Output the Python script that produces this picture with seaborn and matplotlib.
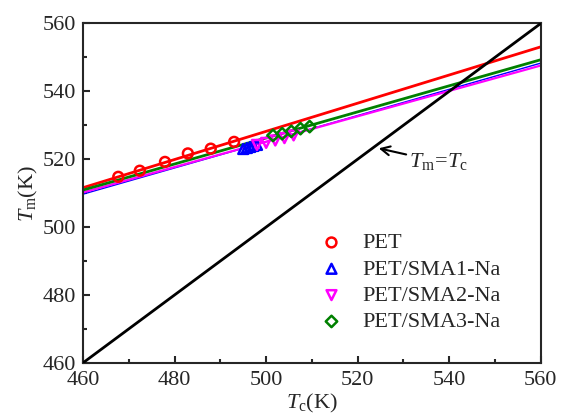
import matplotlib
matplotlib.use("Agg")
import matplotlib.pyplot as plt
import numpy as np
import seaborn as sns

# melting point Tm vs crystallisation temperature Tc (K)
pet_tc = [467.7, 472.4, 477.9, 482.9, 487.9, 493.0]
pet_tm = [514.8, 516.6, 519.2, 521.7, 523.1, 525.1]
sma1_tc = [495.0, 495.8, 496.5, 497.2, 498.0]
sma1_tm = [523.0, 523.3, 523.6, 523.9, 524.2]
sma2_tc = [498.0, 500.0, 502.0, 504.0, 506.0]
sma2_tm = [524.2, 524.8, 525.5, 526.2, 527.0]
sma3_tc = [501.5, 503.5, 505.5, 507.5, 509.5]
sma3_tm = [527.0, 527.5, 528.2, 529.0, 529.6]

# linear fits: Tm at Tc=460 K and slope
fit_tm460 = [511.6, 509.7, 510.2, 510.9]
fit_slope = [0.415, 0.386, 0.374, 0.384]

names = ["PET", "PET/SMA1-Na", "PET/SMA2-Na", "PET/SMA3-Na"]
colors = ["#ff0000", "#0000ff", "#ff00ff", "#008000"]
markers = ["o", "^", "v", "D"]
marker_sizes = [50, 50, 50, 34]
fit_widths = [2.0, 1.0, 1.6, 2.0]

x_range = [460, 560]

sns.set_style("ticks")
plt.rcParams["font.family"] = ["Liberation Serif", "DejaVu Serif"]
plt.rcParams["mathtext.fontset"] = "custom"
plt.rcParams["mathtext.rm"] = "Liberation Serif"
plt.rcParams["mathtext.it"] = "Liberation Serif:italic"

fig = plt.figure(figsize=(5.61, 4.18), dpi=100)
ax = fig.add_axes([0.148, 0.132, 0.816, 0.812])

series = [(pet_tc, pet_tm), (sma1_tc, sma1_tm), (sma2_tc, sma2_tm), (sma3_tc, sma3_tm)]

xs = np.array(x_range, dtype=float)
for i in range(4):
    ys = fit_tm460[i] + fit_slope[i] * (xs - 460)
    sns.lineplot(x=xs, y=ys, color=colors[i], linewidth=fit_widths[i], ax=ax, zorder=2)

# Tm = Tc line
sns.lineplot(x=xs, y=xs, color="black", linewidth=2, ax=ax, zorder=3)

for i, (tc, tm) in enumerate(series):
    sns.scatterplot(
        x=tc, y=tm, marker=markers[i], s=marker_sizes[i],
        facecolor="none", edgecolor=colors[i], linewidth=1.8,
        label=names[i], ax=ax, zorder=4,
    )

ax.annotate(
    r"$T_{\mathrm{m}}\!=\!T_{\mathrm{c}}$", xy=(524.6, 523.2), xytext=(531.3, 519.2),
    fontsize=16, ha="left", va="center",
    arrowprops=dict(arrowstyle="->", color="black", lw=1.5, shrinkA=0, shrinkB=0),
)

ax.set_xlim(460, 560)
ax.set_ylim(460, 560)
ax.set_xticks(np.arange(460, 561, 20))
ax.set_yticks(np.arange(460, 561, 20))
ax.set_xticks(np.arange(470, 560, 20), minor=True)
ax.set_yticks(np.arange(470, 560, 20), minor=True)
ax.tick_params(which="major", direction="in", length=5, width=1.5, labelsize=16)
ax.tick_params(which="minor", direction="in", length=3, width=1.5)
ax.tick_params(axis="x", which="major", pad=6)
ax.tick_params(axis="y", which="major", pad=5)
for sp in ax.spines.values():
    sp.set_linewidth(1.5)

ax.set_xlabel(r"$T_{\mathrm{c}}$(K)", fontsize=16, labelpad=1.5)
ax.set_ylabel(r"$T_{\mathrm{m}}$(K)", fontsize=16, labelpad=2)

ax.legend(
    loc="lower right", bbox_to_anchor=(0.913, 0.09), frameon=False,
    fontsize=16, handlelength=1.0, handletextpad=0.9, labelspacing=0.26,
    borderpad=0, borderaxespad=0,
)

fig.savefig("out.png", dpi=100)
